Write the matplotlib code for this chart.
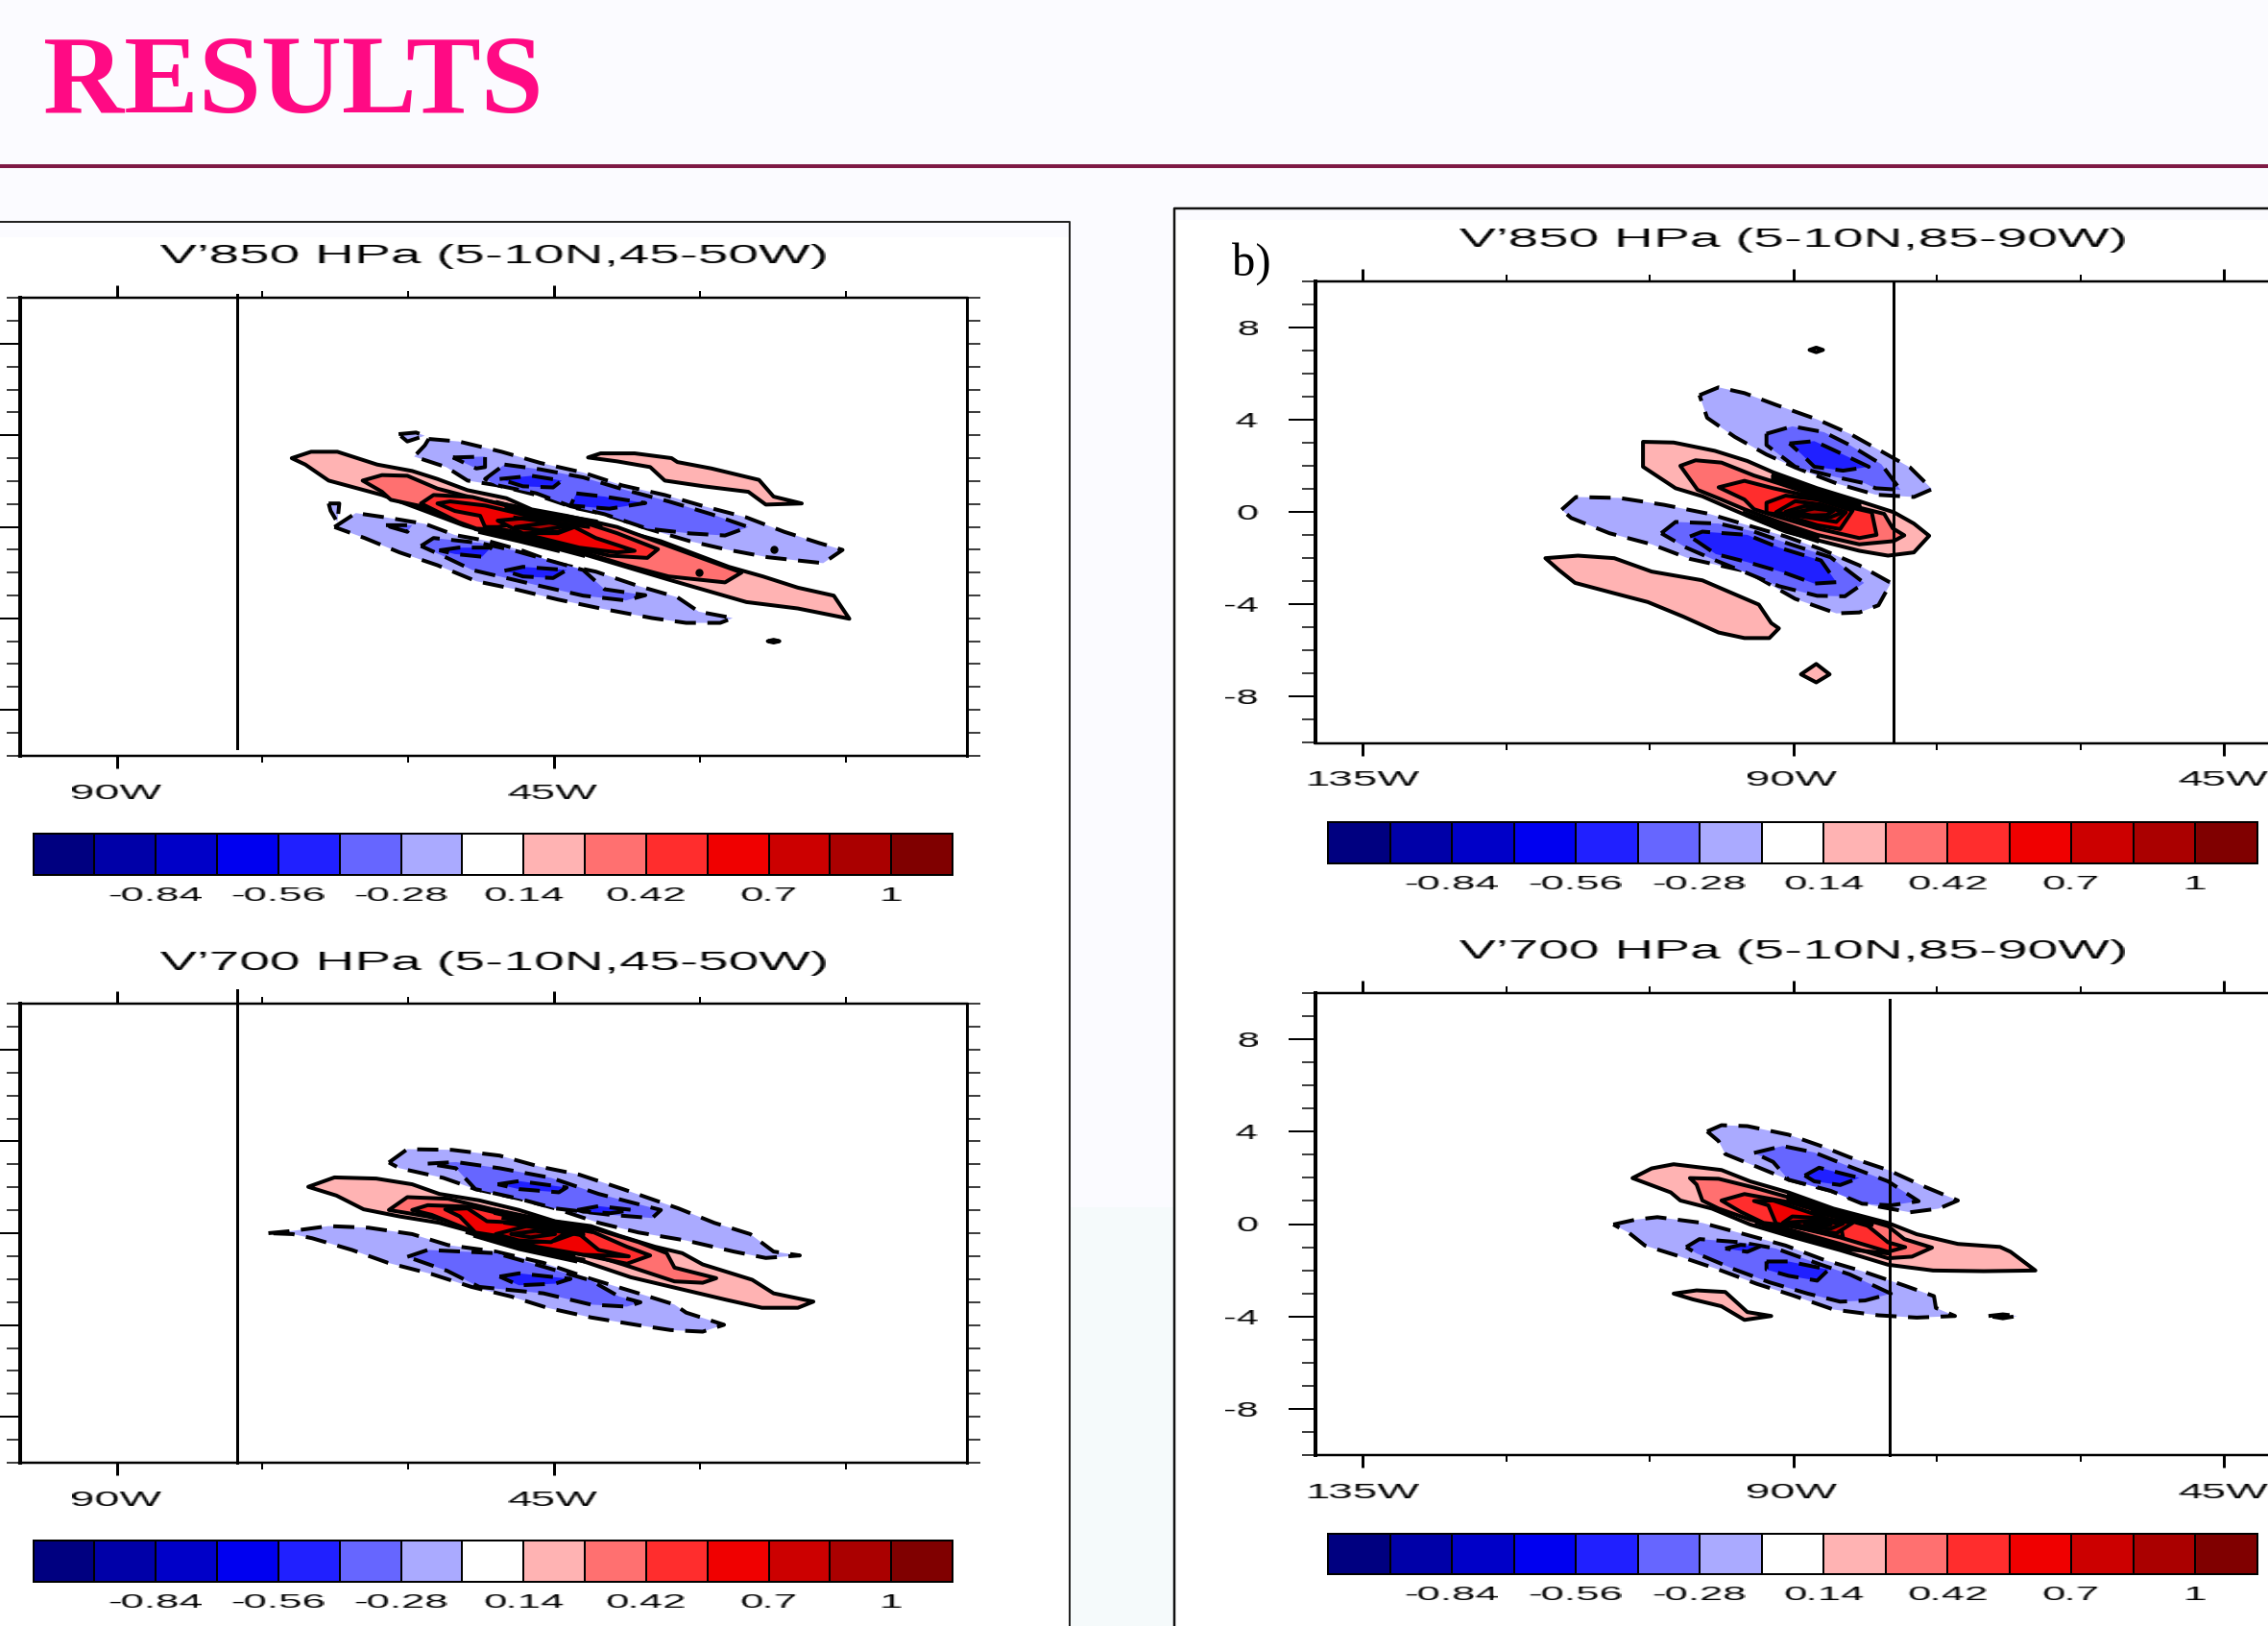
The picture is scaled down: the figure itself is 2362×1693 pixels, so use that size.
import numpy as np
import matplotlib
matplotlib.use("Agg")
import matplotlib.pyplot as plt
from matplotlib.patches import Rectangle
from matplotlib.colors import ListedColormap

W, H = 2362, 1693
LEVEL_COLORS = ['#000080', '#0000A8', '#0000C8', '#0000F0', '#2020FF', '#6666FF', '#AAAAFF', '#FFFFFF',
                '#FFB3B3', '#FF7070', '#FF2D2D', '#F00000', '#CC0000', '#AA0000', '#800000']
CB_TICK_INDEX = [2, 4, 6, 8, 10, 12, 14]
CB_TICK_LABELS = ['-0.84', '-0.56', '-0.28', '0.14', '0.42', '0.7', '1']
B1, B2, B3 = 6, 5, 4
R1, R2, R3, R4, R5, R6 = 8, 9, 10, 11, 12, 13

# ---------- Panel A : V'850, 45-50W ----------
A_POS1 = ([-72.0,-70.0,-67.3,-63.2,-59.6,-57.0,-53.9,-49.9,-47.3,-43.7,-40.7,-37.6,-34.0,-30.5,-27.0,-23.5,-19.9,-16.2,-14.6,-19.9,-25.2,-29.2,-33.2,-37.6,-42.0,-46.4,-50.8,-54.3,-58.7,-62.7,-68.2,-70.6],
          [3.0,3.28,3.28,2.72,2.44,2.09,1.6,1.25,0.76,0.48,0.2,-0.22,-0.63,-1.19,-1.75,-2.17,-2.66,-3.01,-4.02,-3.57,-3.29,-2.8,-2.31,-1.75,-1.19,-0.77,-0.36,0.06,0.76,1.39,2.02,2.72])
A_POS1B = ([-41.5,-40.2,-36.7,-32.9,-32.3,-28.8,-23.9,-22.4,-19.5,-23.2,-25.0,-29.6,-33.6,-35.1,-38.5],
           [3.03,3.21,3.21,3.0,2.83,2.55,2.05,1.32,1.02,0.97,1.53,1.77,2.02,2.61,2.86])
A_POS2 = ([-64.7,-62.7,-60.1,-57.0,-52.6,-49.0,-45.5,-40.7,-38.5,-32.3,-29.6,-25.7,-27.4,-33.2,-37.6,-42.0,-46.4,-50.8,-54.3,-58.7,-61.8,-62.7],
          [2.02,2.26,2.23,1.67,1.18,0.9,0.55,0.2,-0.01,-0.98,-1.4,-2.0,-2.43,-2.17,-1.68,-1.12,-0.63,-0.22,0.2,0.9,1.18,1.53])
A_POS3 = ([-58.7,-57.4,-53.4,-49.0,-45.5,-42.0,-38.5,-34.3,-35.4,-39.3,-42.9,-46.4,-49.9,-53.0,-54.8],
          [1.02,1.39,1.3,0.83,0.48,0.2,-0.28,-0.98,-1.36,-1.26,-0.91,-0.49,-0.15,-0.08,0.2])
A_POS4A = ([-57.0,-55.7,-52.1,-49.0,-46.4,-50.8,-52.1,-52.6,-55.2],[1.02,1.11,0.93,0.62,0.34,-0.01,-0.01,0.48,0.69])
A_POS4B = ([-48.6,-44.6,-42.9,-40.7,-36.7,-38.5,-42.4,-46.4],[-0.28,-0.28,-0.01,-0.49,-1.05,-1.12,-0.91,-0.49])
A_POS5 = ([-50.8,-47.3,-42.0,-44.6,-48.2],[0.27,0.41,0.2,-0.22,-0.29])
A_POS6 = ([-49.0,-45.5,-43.3,-46.4],[-0.01,0.18,0.06,-0.15])
A_NEG1U = ([-57.9,-54.8,-50.4,-46.4,-42.0,-38.0,-33.6,-29.6,-25.2,-21.3,-17.7,-15.3,-17.3,-23.0,-27.4,-31.0,-35.4,-39.8,-42.9,-46.8,-50.8,-53.9,-56.1,-59.4,-58.3],
           [3.84,3.73,3.28,2.79,2.37,1.81,1.39,0.9,0.41,-0.22,-0.71,-1.01,-1.59,-1.33,-0.98,-0.63,-0.08,0.55,0.83,1.39,1.81,2.02,2.61,3.07,3.56])
A_NEG1T = ([-61.0,-59.2,-58.3,-60.1],[4.05,4.12,3.98,3.73])
A_NEG2S = ([-55.4,-52.1,-52.1,-53.0],[3.03,3.07,2.61,2.55])
A_NEG2U = ([-50.1,-46.4,-42.0,-37.6,-33.2,-28.8,-25.0,-27.4,-31.0,-35.4,-39.8,-43.3,-46.8,-50.8,-52.1],
           [2.72,2.51,2.16,1.6,1.11,0.55,-0.01,-0.38,-0.29,-0.08,0.55,0.9,1.46,1.81,2.09])
A_NEG3U1 = ([-50.6,-47.3,-44.2,-45.1,-48.2],[2.09,2.23,2.02,1.72,1.77])
A_NEG3U2 = ([-42.7,-39.8,-35.6,-39.3,-43.3],[1.46,1.32,1.04,0.79,0.93])
A_NEG1L = ([-67.6,-65.4,-62.3,-58.3,-55.2,-51.7,-48.2,-44.6,-40.7,-36.3,-32.3,-30.1,-26.6,-27.9,-31.4,-34.9,-40.2,-44.6,-49.0,-53.0,-57.0,-60.9,-64.5],
           [-0.01,0.6,0.41,0.13,-0.36,-0.63,-1.05,-1.61,-1.96,-2.59,-3.08,-3.71,-3.99,-4.2,-4.2,-3.99,-3.57,-3.18,-2.73,-2.38,-1.68,-1.12,-0.49])
A_NEG1S = ([-68.2,-67.1,-67.3,-68.0],[1.02,1.02,0.2,0.7])
A_NEG1D = ([-62.3,-59.6,-60.1,-61.8],[0.07,0.07,-0.22,-0.01])
A_NEG2L = ([-58.7,-57.4,-52.6,-49.0,-45.5,-42.0,-39.8,-35.6,-37.6,-42.0,-46.4,-49.9,-53.4,-56.5],
           [-0.84,-0.49,-0.71,-1.05,-1.47,-1.89,-2.73,-2.99,-3.22,-3.01,-2.59,-2.24,-1.89,-1.26])
A_NEG3L1 = ([-56.8,-54.8,-51.5,-52.4,-55.2],[-1.03,-0.91,-0.91,-1.31,-1.19])
A_NEG3L2 = ([-50.1,-48.2,-43.7,-45.1,-48.2],[-1.92,-1.75,-1.89,-2.24,-2.17])
A_TINY = ([-23.0,-22.4,-21.8,-22.4],[-5.0,-4.94,-5.0,-5.06])
A_CORE = [([-50.8,-47.3,-43.7,-40.7],[1.07,0.68,0.46,0.24]),
          ([-49.9,-46.4,-42.9,-40.2],[0.83,0.51,0.27,0.07]),
          ([-49.0,-45.5,-42.4],[0.65,0.37,0.18]),
          ([-49.0,-45.5,-41.5],[0.4,0.2,0.0]),
          ([-53.0,-49.0,-45.1,-42.0],[-0.11,-0.52,-0.91,-1.26]),
          ([-52.6,-48.6,-44.6],[-0.24,-0.63,-1.05]),
          ([-52.1,-48.6,-45.1],[0.0,-0.38,-0.77]),
          ([-51.0,-47.3,-44.0],[-0.25,-0.63,-0.95])]
A_DOTS = ([-30.1,-22.4],[-1.99,-1.0])

# ---------- Panel B : V'850, 85-90W ----------
B_POS1 = ([-105.7,-102.5,-98.2,-94.8,-92.1,-87.5,-83.1,-79.5,-77.4,-75.8,-77.4,-80.1,-83.1,-87.1,-90.8,-94.1,-96.8,-99.5,-102.3,-105.7],
          [3.04,3.01,2.65,2.21,1.72,1.03,0.47,-0.01,-0.5,-1.03,-1.75,-1.89,-1.68,-1.26,-0.85,-0.29,0.19,0.68,1.03,1.96])
B_POS1L = ([-115.9,-112.5,-108.7,-104.8,-99.5,-93.6,-92.3,-91.5,-92.5,-95.1,-97.8,-101.5,-105.2,-108.8,-112.8,-114.5],
           [-2.0,-1.89,-2.0,-2.58,-2.96,-4.01,-4.81,-5.04,-5.46,-5.46,-5.22,-4.53,-3.9,-3.51,-3.07,-2.51])
B_POS1D = ([-89.2,-87.6,-86.2,-87.6],[-7.03,-6.58,-7.03,-7.38])
B_POS1T = ([-88.3,-87.6,-86.9,-87.6],[7.02,7.12,7.02,6.92])
B_POS2 = ([-101.8,-100.2,-97.5,-94.1,-91.5,-87.5,-83.1,-80.5,-79.6,-78.4,-79.5,-83.1,-87.5,-91.5,-95.1,-97.5,-100.0],
          [2.0,2.24,2.14,1.58,1.24,0.68,0.19,-0.08,-0.71,-1.01,-1.26,-1.4,-0.99,-0.43,0.12,0.54,0.96])
B_POS3 = ([-97.8,-95.1,-92.1,-87.5,-83.5,-81.8,-81.3,-83.1,-87.5,-91.5,-94.1,-95.1],
          [1.07,1.35,1.03,0.61,0.15,-0.01,-0.99,-1.13,-0.71,-0.22,0.12,0.54])
B_POS4 = ([-92.8,-90.8,-87.5,-83.8,-85.1,-87.5,-90.8,-92.8],[0.4,0.71,0.54,0.06,-0.74,-0.57,-0.15,-0.04])
B_POS5 = ([-91.8,-89.8,-87.1,-84.5,-85.5,-88.1,-90.8],[-0.01,0.47,0.33,-0.01,-0.43,-0.26,-0.08])
B_POS6 = ([-90.8,-88.8,-86.1,-84.8,-86.1,-88.5],[0.01,0.26,0.19,-0.01,-0.22,-0.15])
B_POS7 = ([-89.8,-87.8,-85.8,-86.5,-88.1],[-0.01,0.15,0.05,-0.13,-0.15])
B_NEG1U = ([-99.8,-97.8,-95.1,-91.8,-87.5,-84.1,-80.8,-77.8,-75.5,-77.4,-81.4,-85.5,-89.8,-92.8,-96.1,-99.0],
           [5.06,5.4,5.15,4.64,4.01,3.39,2.63,1.93,0.99,0.65,0.75,1.24,1.93,2.49,3.25,4.08])
B_NEG2U = ([-92.8,-90.1,-86.8,-84.1,-80.8,-78.8,-81.4,-82.5,-85.5,-89.8,-92.8],
           [3.39,3.71,3.46,2.9,2.07,0.96,1.03,1.24,1.51,1.96,2.9])
B_NEG3U = ([-90.4,-87.8,-85.5,-82.1,-84.8,-87.8,-89.1],[2.97,3.07,2.63,1.96,1.79,1.96,2.49])
B_NEG1L = ([-114.2,-112.7,-108.2,-103.5,-98.8,-94.8,-90.8,-87.1,-83.1,-79.8,-81.1,-83.1,-85.5,-89.8,-94.8,-100.8,-104.8,-109.2,-113.2],
           [0.1,0.65,0.61,0.31,-0.08,-0.57,-1.06,-1.61,-2.31,-3.07,-4.04,-4.35,-4.39,-3.76,-2.58,-2.03,-1.4,-0.92,-0.26])
B_NEG2L = ([-103.8,-102.3,-97.8,-94.1,-90.8,-86.1,-82.6,-84.6,-87.5,-91.5,-94.8,-98.1,-101.2],
           [-0.92,-0.43,-0.5,-0.85,-1.33,-1.96,-3.07,-3.65,-3.63,-3.21,-2.65,-2.1,-1.54])
B_NEG3L = ([-100.8,-99.5,-94.8,-91.5,-87.1,-85.5,-87.8,-90.8,-94.8,-98.1],
           [-1.06,-0.85,-0.99,-1.54,-2.1,-3.04,-3.1,-2.65,-2.17,-1.82])
B_CORE = [([-92.1,-87.5,-83.1],[1.58,0.89,0.33]),
          ([-92.1,-87.5,-83.1],[1.49,0.79,0.24]),
          ([-92.1,-87.5,-83.8],[1.37,0.71,0.26]),
          ([-95.1,-91.5,-87.5],[-0.04,-0.57,-1.13]),
          ([-94.8,-91.5,-87.5],[-0.15,-0.71,-1.26])]

# ---------- Panel C : V'700, 45-50W ----------
C_POS1 = ([-70.3,-67.6,-63.3,-59.6,-56.8,-52.7,-48.6,-44.9,-41.2,-38.3,-34.6,-31.8,-29.7,-24.6,-22.4,-18.3,-19.9,-23.6,-27.3,-32.2,-37.1,-42.0,-46.9,-51.9,-56.8,-60.9,-64.6,-67.4],
          [2.02,2.43,2.38,2.13,1.71,1.43,1.01,0.52,0.31,-0.11,-0.59,-0.87,-1.36,-2.03,-2.62,-2.98,-3.25,-3.25,-2.9,-2.41,-1.92,-1.22,-0.66,-0.11,0.45,0.73,1.04,1.64])
C_POS2 = ([-62.0,-60.1,-55.9,-51.0,-46.1,-41.2,-36.3,-33.4,-32.6,-28.3,-29.7,-32.6,-37.9,-42.8,-48.6,-53.9,-58.0],
          [1.01,1.57,1.5,1.01,0.59,0.24,-0.39,-0.87,-1.5,-1.96,-2.16,-2.1,-1.36,-0.73,-0.18,0.31,0.73])
C_POS3 = ([-59.6,-58.0,-53.5,-48.6,-42.0,-37.5,-35.1,-37.5,-42.0,-48.6,-53.9,-57.6],
          [1.01,1.22,1.15,0.66,0.24,-0.59,-0.97,-1.33,-0.94,-0.32,0.17,0.8])
C_POS4A = ([-56.2,-53.9,-51.9,-48.2,-45.3,-51.0,-53.1,-54.7],[1.04,1.08,0.52,0.45,0.17,-0.11,0.03,0.73])
C_POS4B = ([-48.6,-44.9,-42.6,-40.4,-37.3,-42.0],[-0.46,-0.32,0.03,-0.73,-1.01,-0.94])
C_POS5 = ([-51.0,-47.8,-43.7,-45.3,-48.6],[-0.04,0.31,0.03,-0.39,-0.32])
C_POS6 = ([-49.4,-46.9,-44.9,-47.4],[-0.04,0.1,-0.04,-0.18])
C_NEG1U = ([-62.0,-60.1,-55.5,-50.6,-46.5,-42.4,-37.9,-32.2,-28.5,-24.8,-22.4,-19.7,-23.2,-26.5,-31.4,-36.3,-40.4,-44.9,-48.6,-53.1,-56.4,-60.9],
           [3.08,3.66,3.63,3.38,2.9,2.55,1.92,1.08,0.45,-0.04,-0.8,-0.97,-1.08,-0.8,-0.32,0.03,0.45,1.08,1.5,1.92,2.41,2.83])
C_NEG2U = ([-58.0,-55.1,-50.6,-45.3,-40.4,-34.0,-34.9,-39.2,-44.9,-48.6,-53.1,-55.1],
           [3.03,3.1,2.83,2.41,1.71,1.01,0.66,0.8,1.08,1.5,1.92,2.83])
C_NEG3U1 = ([-50.8,-48.6,-43.7,-44.5,-48.6],[2.13,2.27,1.99,1.78,1.92])
C_NEG3U2 = ([-42.6,-40.4,-36.9,-39.2,-42.0],[1.01,1.18,1.01,0.87,0.94])
C_NEG1L = ([-74.4,-71.9,-68.2,-64.1,-59.6,-55.9,-51.0,-46.1,-41.2,-36.3,-32.6,-31.4,-27.5,-29.7,-33.0,-36.3,-41.2,-45.7,-49.4,-53.5,-57.6,-62.1,-65.8,-69.9,-71.9],
           [0.0,0.1,0.31,0.24,-0.04,-0.52,-0.8,-1.29,-1.99,-2.62,-3.11,-3.46,-3.99,-4.29,-4.22,-4.01,-3.67,-3.25,-2.76,-2.34,-1.78,-1.29,-0.73,-0.22,-0.04])
C_NEG2L = ([-60.1,-58.0,-51.0,-46.9,-41.2,-38.3,-36.1,-37.5,-41.2,-46.1,-52.7,-56.0],
           [-1.03,-0.73,-0.87,-1.36,-2.06,-2.76,-3.01,-3.2,-3.11,-2.62,-2.34,-1.64])
C_NEG3L = ([-50.6,-48.6,-43.3,-44.9,-48.6],[-1.89,-1.75,-1.99,-2.2,-2.27])
C_CORE = [([-51.0,-46.1,-41.2],[1.01,0.52,0.17]),
          ([-51.0,-46.1,-41.2],[0.87,0.42,0.06]),
          ([-50.2,-46.1,-42.0],[0.66,0.34,0.03]),
          ([-50.0,-46.0,-42.0],[0.45,0.2,-0.1]),
          ([-53.9,-48.6,-42.0],[0.03,-0.59,-1.22]),
          ([-53.1,-48.6,-42.8],[-0.13,-0.69,-1.22]),
          ([-51.9,-47.8,-42.0],[-0.25,-0.73,-1.15]),
          ([-50.5,-47.0,-43.0],[-0.3,-0.6,-1.0])]

# ---------- Panel D : V'700, 85-90W ----------
D_POS1 = ([-106.8,-104.8,-102.5,-97.5,-94.5,-90.5,-85.8,-80.1,-77.1,-72.8,-68.4,-67.3,-64.7,-70.1,-75.4,-80.1,-85.1,-90.5,-94.5,-98.5,-101.8,-102.8],
          [1.99,2.41,2.59,2.34,1.85,1.37,0.67,0.05,-0.44,-0.86,-0.99,-1.2,-2.01,-2.04,-2.01,-1.76,-1.13,-0.51,-0.02,0.67,1.02,1.37])
D_POS1L = ([-102.5,-100.1,-97.1,-94.8,-92.3,-95.1,-97.5,-100.5],[-3.01,-2.87,-2.94,-3.81,-3.98,-4.15,-3.56,-3.26])
D_POS2 = ([-100.8,-97.8,-94.1,-90.5,-85.8,-80.1,-78.4,-75.5,-77.6,-80.1,-85.1,-90.5,-94.5,-97.8,-99.5,-100.1],
          [1.99,1.96,1.58,1.16,0.6,-0.09,-0.65,-1.02,-1.41,-1.48,-0.86,-0.23,0.19,0.67,1.02,1.71])
D_POS3 = ([-97.5,-95.1,-90.5,-85.8,-82.8,-80.1,-78.3,-80.1,-85.1,-90.1,-93.1,-95.5],
          [1.02,1.3,0.95,0.39,0.12,-0.79,-1.0,-1.2,-0.58,-0.09,0.05,0.53])
D_POS4 = ([-94.1,-92.1,-88.5,-85.1,-84.8,-88.5,-91.8,-92.6],[1.0,1.02,0.53,0.05,-0.58,-0.23,0.02,0.81])
D_POS5 = ([-91.1,-90.1,-87.1,-83.8,-85.5,-88.5],[0.05,0.33,0.26,0.05,-0.4,-0.23])
D_POS6 = ([-90.5,-87.8,-84.8,-86.1,-88.8],[0.07,0.16,0.02,-0.2,-0.12])
D_POS7 = ([-88.8,-87.1,-86.1,-87.5],[0.02,0.07,-0.02,-0.09])
D_NEG1U = ([-99.0,-97.5,-94.8,-90.5,-87.1,-84.1,-80.1,-76.4,-72.8,-74.8,-77.8,-81.8,-86.1,-90.5,-93.8,-95.5,-97.1,-97.8],
           [4.01,4.28,4.24,3.87,3.38,2.89,2.34,1.64,1.02,0.67,0.51,0.81,1.44,1.92,2.48,2.76,3.03,3.59])
D_NEG2U = ([-94.1,-91.1,-87.8,-84.5,-80.1,-76.9,-79.8,-82.8,-86.1,-90.5,-92.1],
           [3.08,3.38,3.1,2.55,1.85,0.99,0.81,0.88,1.44,1.92,2.69])
D_NEG3U = ([-88.8,-87.3,-83.1,-85.1,-87.8],[2.1,2.44,2.0,1.69,1.85])
D_NEG1L = ([-108.8,-106.5,-104.2,-99.5,-95.1,-90.8,-86.8,-82.8,-78.4,-75.3,-75.1,-73.1,-77.1,-81.1,-85.8,-90.1,-93.8,-97.8,-101.8,-105.5,-107.2],
           [-0.02,0.19,0.3,0.05,-0.44,-0.93,-1.55,-2.04,-2.66,-3.12,-3.63,-3.98,-4.05,-3.95,-3.7,-3.08,-2.59,-1.97,-1.41,-0.93,-0.37])
D_NEG2L = ([-101.2,-99.8,-95.5,-91.8,-87.1,-84.1,-79.8,-82.5,-85.1,-88.5,-92.5,-96.1,-100.1],
           [-1.0,-0.65,-0.79,-1.06,-1.76,-2.18,-3.01,-3.31,-3.36,-3.01,-2.52,-1.97,-1.27])
D_NEG3L1 = ([-97.1,-95.5,-93.5,-94.8],[-1.06,-0.9,-0.97,-1.2])
D_NEG3L2 = ([-92.8,-90.5,-86.3,-87.5,-90.5,-92.8],[-1.62,-1.62,-1.97,-2.45,-2.24,-1.97])
D_NEGT = ([-69.6,-68.1,-66.6,-68.1],[-3.98,-3.91,-3.98,-4.08])
D_CORE = [([-90.5,-85.8,-81.8],[1.23,0.53,-0.02]),
          ([-90.5,-85.8,-82.5],[1.09,0.44,0.02]),
          ([-88.0,-85.0,-82.0],[0.55,0.25,-0.1]),
          ([-93.8,-89.8,-85.1,-80.1],[0.05,-0.44,-1.06,-1.27]),
          ([-93.1,-89.1,-85.1],[-0.09,-0.51,-0.93]),
          ([-91.0,-87.5,-84.0],[-0.35,-0.72,-1.1])]

A_FILLS = [(B1,A_NEG1U),(B1,A_NEG1T),(B2,A_NEG2S),(B2,A_NEG2U),(B3,A_NEG3U1),(B3,A_NEG3U2),
           (B1,A_NEG1L),(B1,A_NEG1S),(B2,A_NEG1D),(B2,A_NEG2L),(B3,A_NEG3L1),(B3,A_NEG3L2),
           (R1,A_POS1),(R1,A_POS1B),(R1,A_TINY),(R2,A_POS2),(R3,A_POS3),(R4,A_POS4A),(R4,A_POS4B),(R5,A_POS5),(R6,A_POS6)]
B_FILLS = [(B1,B_NEG1U),(B2,B_NEG2U),(B3,B_NEG3U),(B1,B_NEG1L),(B2,B_NEG2L),(B3,B_NEG3L),
           (R1,B_POS1),(R1,B_POS1L),(R1,B_POS1D),(R1,B_POS1T),(R2,B_POS2),(R3,B_POS3),(R4,B_POS4),(R5,B_POS5),(R6,B_POS6),(R6,B_POS7)]
C_FILLS = [(B1,C_NEG1U),(B2,C_NEG2U),(B3,C_NEG3U1),(B3,C_NEG3U2),(B1,C_NEG1L),(B2,C_NEG2L),(B3,C_NEG3L),
           (R1,C_POS1),(R2,C_POS2),(R3,C_POS3),(R4,C_POS4A),(R4,C_POS4B),(R5,C_POS5),(R6,C_POS6)]
D_FILLS = [(B1,D_NEG1U),(B2,D_NEG2U),(B3,D_NEG3U),(B1,D_NEG1L),(B1,D_NEGT),(B2,D_NEG2L),(B3,D_NEG3L1),(B3,D_NEG3L2),
           (R1,D_POS1),(R1,D_POS1L),(R2,D_POS2),(R3,D_POS3),(R4,D_POS4),(R5,D_POS5),(R6,D_POS6),(R6,D_POS7)]

PX = 0.72  # points per pixel at dpi 100
SANS = 'Liberation Sans'
fig = plt.figure(figsize=(W/100, H/100), dpi=100, facecolor='#FBFBFF')

def widen(factor, anchor=0.5):
    """agg filter: the source image has its text stretched horizontally; keep that look."""
    def f(img, dpi):
        h, w = img.shape[:2]
        nw = int(round(w*factor))
        xs = (np.arange(nw)+0.5)/factor-0.5
        out = np.empty((h, nw, 4))
        for c in range(4):
            for r in range(h):
                out[r, :, c] = np.interp(xs, np.arange(w), img[r, :, c])
        return out, -int(round((nw-w)*anchor)), 0
    return f

def box(l, t, r, b):
    return [l/W, 1-b/H, (r-l)/W, (b-t)/H]

bg = fig.add_axes([0, 0, 1, 1]); bg.set_xlim(0, W); bg.set_ylim(H, 0); bg.axis('off')
bg.add_patch(Rectangle((1114, 1257), 109, 436, fc='#F5FAFB', ec='none'))
bg.add_patch(Rectangle((0, 247), 1114, H-247, fc='white', ec='none'))
bg.add_patch(Rectangle((1223, 229), W-1223, H-229, fc='white', ec='none'))
bg.plot([0, 1114.3, 1114.3], [231, 231, H], color='#222222', lw=2*PX)
bg.plot([1223, 1223, W], [H, 216.7, 216.7], color='#111111', lw=2.5*PX)
bg.plot([0, W], [172.7, 172.7], color='#7F1A45', lw=4*PX)
bg.text(45, 89, 'RESULTS', family='Liberation Serif', weight='bold', size=84, color='#FF0A84', va='center', ha='left')
bg.text(1283, 275, 'b)', family='Liberation Serif', size=35, color='black', va='center', ha='left')
TITLES = [(515, 267, "V’850 HPa (5-10N,45-50W)"), (515, 1003, "V’700 HPa (5-10N,45-50W)"),
          (1868, 250, "V’850 HPa (5-10N,85-90W)"), (1868, 991, "V’700 HPa (5-10N,85-90W)")]
for tx, ty, ts in TITLES:
    t = bg.text(tx, ty, ts, family=SANS, size=19.5, ha='center', va='center')
    t.set_agg_filter(widen(2.1))

def panel(rect, xlim, fills, core, vline, vspan, xticks, xlabels, ylab, spine_right, dots=None):
    ax = fig.add_axes(box(*rect), facecolor='white')
    ax.set_xlim(*xlim); ax.set_ylim(-10, 10)
    for lvl, (lon, lat) in fills:
        ls = (0, (5.5, 3)) if lvl < 7 else '-'
        ax.fill(lon, lat, facecolor=LEVEL_COLORS[lvl], edgecolor='black', lw=4*PX, ls=ls, joinstyle='round')
    for lon, lat in core:
        ax.plot(lon, lat, color='black', lw=4*PX)
    if dots:
        ax.plot(dots[0], dots[1], 'o', color='black', ms=5)
    ax.plot([vline, vline], vspan, color='black', lw=3*PX, clip_on=False, zorder=5)
    ax.set_xticks(xticks, xlabels, family=SANS)
    minor = [t for t in np.arange(-135, -1, 15) if xlim[0] < t < xlim[1] and t not in xticks]
    ax.set_xticks(minor, minor=True)
    ax.set_yticks([-8, -4, 0, 4, 8], ylab if ylab else ['']*5, family=SANS)
    ax.set_yticks([v for v in range(-10, 11) if v % 4], minor=True)
    ax.tick_params(axis='x', which='major', top=True, length=13*PX, width=3*PX, labelsize=15.5, pad=16*PX)
    ax.tick_params(axis='x', which='minor', top=True, length=7*PX, width=2*PX)
    ax.tick_params(axis='y', which='major', length=28*PX, width=2*PX, labelsize=15.5, pad=32*PX)
    ax.tick_params(axis='y', which='minor', length=14*PX, width=1.5*PX)
    for lab in ax.get_xticklabels():
        lab.set_agg_filter(widen(2.15))
    for lab in ax.get_yticklabels():
        lab.set_agg_filter(widen(1.9, anchor=1.0))
    ax.spines['left'].set_linewidth(4*PX)
    ax.spines['top'].set_linewidth(2.5*PX)
    ax.spines['bottom'].set_linewidth(2.5*PX)
    ax.spines['right'].set_linewidth(3*PX)
    if spine_right:
        r = ax.twinx(); r.set_ylim(-10, 10); r.patch.set_alpha(0)
        r.set_yticks([-8, -4, 0, 4, 8], ['']*5)
        r.set_yticks(list(range(-10, 11)), minor=True)
        r.tick_params(axis='y', which='both', length=14*PX, width=1.5*PX)
        for s in r.spines.values(): s.set_visible(False)
    else:
        ax.spines['right'].set_visible(False)
    return ax

def colorbar(rect):
    cax = fig.add_axes(box(*rect))
    cax.pcolormesh(np.arange(16), [0, 1], [np.arange(15)], cmap=ListedColormap(LEVEL_COLORS),
                   vmin=-0.5, vmax=14.5, edgecolors='black', linewidth=2*PX)
    cax.set_xticks(CB_TICK_INDEX, CB_TICK_LABELS, family=SANS)
    cax.set_yticks([])
    cax.tick_params(axis='x', length=0, labelsize=15, pad=12*PX)
    for lab in cax.get_xticklabels():
        lab.set_agg_filter(widen(2.1))
    for s in cax.spines.values(): s.set_linewidth(2*PX)

LEFT_XLIM = (-100, -2.5)
RIGHT_XLIM = (-139.92, -40.4)
panel((20.5, 310.3, 1007, 786.7), LEFT_XLIM, A_FILLS, A_CORE, -77.6, [10.15, -9.67], [-90, -45], ['90W', '45W'], None, True, A_DOTS)
panel((20.5, 1045, 1007, 1523), LEFT_XLIM, C_FILLS, C_CORE, -77.6, [10.6, -10], [-90, -45], ['90W', '45W'], None, True)
YL = ['-8', '-4', '0', '4', '8']
panel((1370, 292.7, W, 773.5), RIGHT_XLIM, B_FILLS, B_CORE, -79.5, [10, -10], [-135, -90, -45], ['135W', '90W', '45W'], YL, False)
panel((1370, 1034, W, 1515), RIGHT_XLIM, D_FILLS, D_CORE, -79.9, [9.7, -10], [-135, -90, -45], ['135W', '90W', '45W'], YL, False)
colorbar((34.5, 867.7, 992, 910.7))
colorbar((34.5, 1604, 992, 1646.5))
colorbar((1383, 855.6, 2350.7, 899))
colorbar((1383, 1597, 2350.7, 1639))

fig.savefig('out.png', dpi=100, facecolor=fig.get_facecolor())
